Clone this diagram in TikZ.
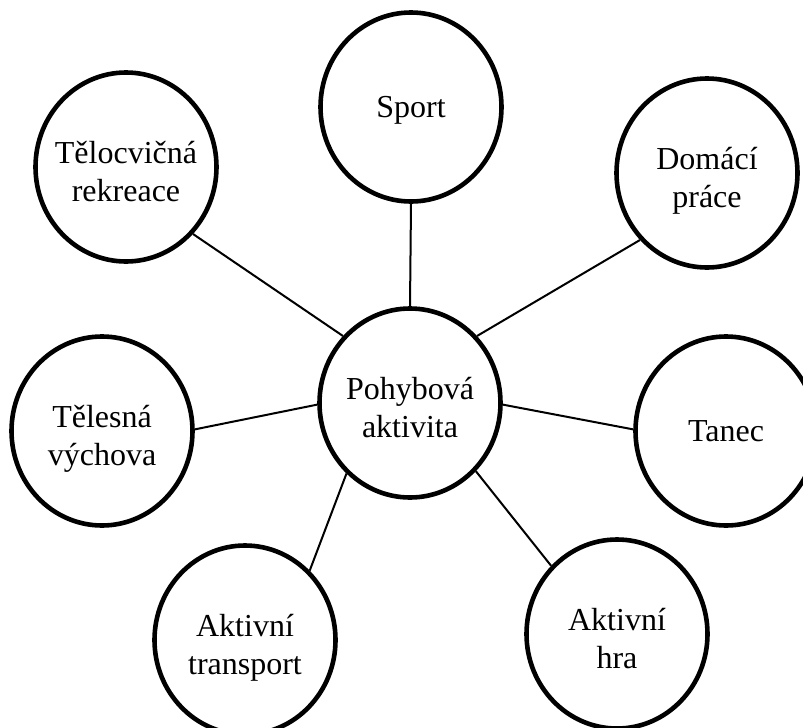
\documentclass[tikz,border=0pt]{standalone}
\usepackage{fontspec}
\setmainfont{Liberation Serif}
\usepackage{tikz}
\usetikzlibrary{shapes.geometric}

\begin{document}
\begin{tikzpicture}[x=1pt, y=-1pt,
    roundnode/.style = {ellipse, draw=black, line width=4.6pt, minimum width=181pt, minimum height=189pt,
                        inner xsep=-30pt, inner ysep=-20pt, text height=68pt, text depth=0pt,
                        align=center, font=\fontsize{32}{38}\selectfont},
    oneline/.style = {text height=22pt, text depth=1pt},
    link/.style = {draw=black, line width=2pt}]
     \useasboundingbox (0,0) rectangle (803,728);
     \node[roundnode] (pa) at (410,403) {Pohybová\\aktivita};
     \node[roundnode, oneline] (sport) at (411,107) {Sport};
     \node[roundnode] (rekreace) at (126,167) {Tělocvičná\\rekreace};
     \node[roundnode] (domaci) at (707,173) {Domácí\\práce};
     \node[roundnode] (vychova) at (102,431) {Tělesná\\výchova};
     \node[roundnode, oneline] (tanec) at (726,431) {Tanec};
     \node[roundnode] (transport) at (245,640) {Aktivní\\transport};
     \node[roundnode] (hra) at (617,634) {Aktivní\\hra};
     \draw[link] (pa.90) -- (sport.-90);
     \draw[link] (pa.135) -- (rekreace.-45);
     \draw[link] (pa.45) -- (domaci.-135);
     \draw[link] (pa.181) -- (vychova.1);
     \draw[link] (pa.-1) -- (tanec.179);
     \draw[link] (pa.-132) -- (transport.47);
     \draw[link] (pa.-46) -- (hra.134);
\end{tikzpicture}
\end{document}
